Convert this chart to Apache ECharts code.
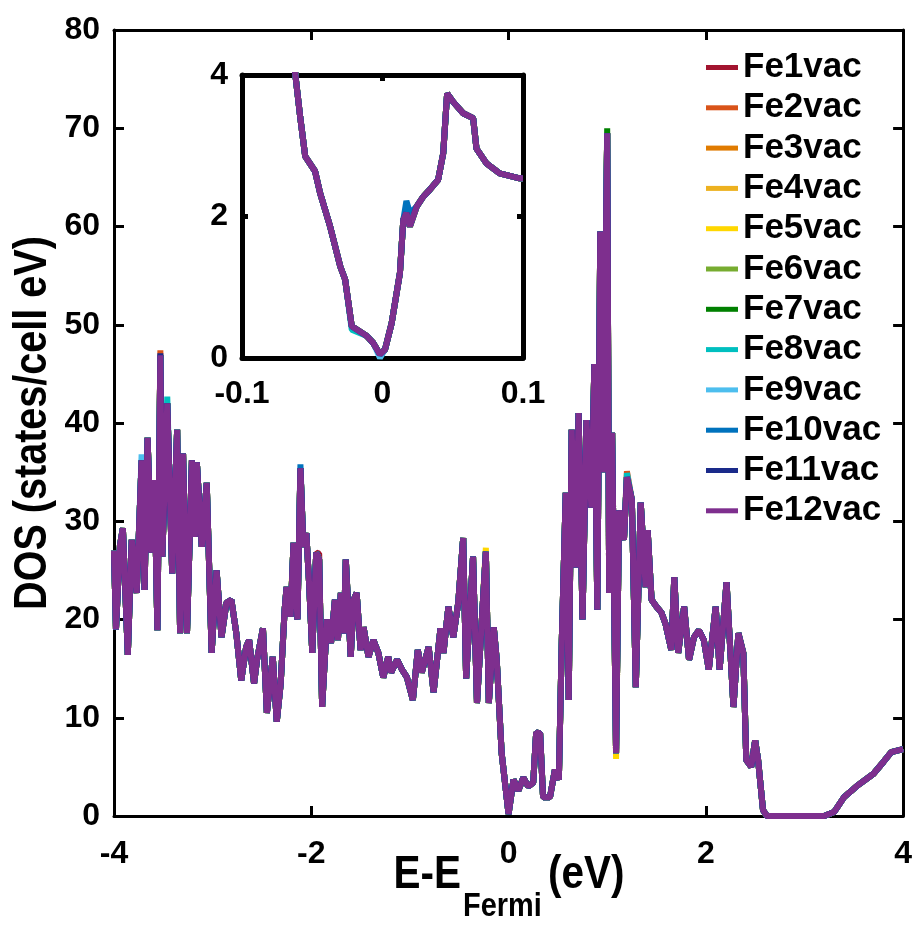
<!DOCTYPE html>
<html>
<head>
<meta charset="utf-8">
<script src="https://cdn.jsdelivr.net/npm/echarts@6/dist/echarts.min.js"></script>
<style>
html, body { margin: 0; padding: 0; background: #fff; }
#chart { width: 915px; height: 934px; }
</style>
</head>
<body>
<div id="chart"></div>
<script>
const seriesNames = ['Fe1vac', 'Fe2vac', 'Fe3vac', 'Fe4vac', 'Fe5vac', 'Fe6vac',
    'Fe7vac', 'Fe8vac', 'Fe9vac', 'Fe10vac', 'Fe11vac', 'Fe12vac'];
const seriesColors = ['#a2142f', '#d95319', '#e07b00', '#edb120', '#ffd700', '#77ac30',
    '#008000', '#00bfbf', '#4dbeee', '#0072bd', '#1a2a8a', '#7e2f8e'];

const energy = [
    -4.00, -3.98, -3.94, -3.91, -3.86, -3.82, -3.77, -3.72, -3.69, -3.66,
    -3.62, -3.59, -3.56, -3.53, -3.51, -3.46, -3.41, -3.36, -3.33, -3.30,
    -3.26, -3.21, -3.18, -3.16, -3.11, -3.06, -3.01, -2.96, -2.91, -2.86,
    -2.81, -2.76, -2.71, -2.66, -2.63, -2.58, -2.55, -2.49, -2.45, -2.39,
    -2.35, -2.31, -2.27, -2.25, -2.21, -2.18, -2.14, -2.11, -2.08, -2.05,
    -2.02, -1.99, -1.95, -1.92, -1.89, -1.84, -1.80, -1.76, -1.73, -1.70,
    -1.67, -1.65, -1.60, -1.57, -1.54, -1.50, -1.47, -1.42, -1.37, -1.32,
    -1.27, -1.22, -1.19, -1.13, -1.08, -1.03, -0.97, -0.92, -0.88, -0.81,
    -0.76, -0.69, -0.66, -0.61, -0.56, -0.51, -0.46, -0.43, -0.36, -0.32,
    -0.23, -0.20, -0.15, -0.12, -0.07, 0.00, 0.05, 0.10, 0.15, 0.20,
    0.25, 0.28, 0.32, 0.35, 0.42, 0.47, 0.51, 0.54, 0.58, 0.61,
    0.64, 0.68, 0.71, 0.75, 0.79, 0.84, 0.87, 0.90, 0.93, 0.96,
    1.00, 1.02, 1.05, 1.09, 1.12, 1.17, 1.20, 1.25, 1.29, 1.34,
    1.39, 1.41, 1.45, 1.50, 1.55, 1.59, 1.65, 1.68, 1.72, 1.78,
    1.83, 1.88, 1.93, 1.98, 2.03, 2.10, 2.14, 2.21, 2.28, 2.33,
    2.38, 2.41, 2.46, 2.50, 2.53, 2.58, 2.62, 3.20, 3.30, 3.40,
    3.55, 3.70, 3.80, 3.88, 4.00
];
const dos = [
    27.0, 19.0, 27.5, 29.3, 16.4, 28.1, 22.7, 36.2, 23.0, 38.5,
    26.8, 34.2, 18.9, 46.9, 26.4, 42.0, 24.7, 39.3, 18.6, 36.9,
    18.6, 36.2, 28.4, 36.0, 27.4, 33.9, 16.6, 25.0, 18.2, 21.7,
    22.0, 18.6, 13.8, 17.2, 17.9, 13.5, 15.9, 19.1, 10.5, 16.2,
    9.6, 13.5, 21.0, 23.3, 20.3, 27.8, 20.0, 35.4, 27.4, 28.8,
    23.3, 16.6, 26.8, 26.1, 11.1, 20.0, 17.6, 22.0, 17.9, 22.7,
    18.6, 26.1, 16.2, 22.0, 22.7, 16.9, 19.2, 16.2, 17.9, 16.6,
    14.1, 16.2, 14.6, 15.9, 14.9, 14.1, 11.8, 16.9, 14.6, 17.2,
    12.6, 19.1, 16.6, 21.3, 18.2, 21.7, 28.3, 14.0, 26.4, 11.5,
    26.9, 11.5, 19.2, 15.9, 6.4, 0.2, 3.7, 2.6, 3.9, 3.0,
    3.4, 8.5, 8.4, 1.9, 1.9, 4.7, 3.7, 17.9, 32.9, 11.8,
    39.3, 25.3, 41.0, 20.0, 40.3, 31.4, 46.0, 21.0, 59.5, 35.0,
    69.5, 22.7, 39.0, 6.4, 31.1, 28.1, 34.5, 32.2, 13.1, 31.9,
    23.3, 29.1, 22.0, 21.3, 20.7, 19.6, 16.9, 24.3, 16.6, 21.3,
    15.9, 18.2, 18.9, 17.9, 14.9, 21.3, 14.9, 23.8, 11.1, 18.6,
    16.6, 5.7, 5.0, 7.7, 5.7, 0.6, 0.0, 0.0, 0.4, 1.9,
    3.2, 4.3, 5.5, 6.5, 6.8
];

// inset, zoom around the Fermi level
const insetEnergy = [
    -0.066, -0.062, -0.0586, -0.055, -0.048, -0.0444, -0.0373, -0.030, -0.0266, -0.0219,
    -0.0112, -0.0065, -0.0018, 0.0018, 0.0065, 0.0124, 0.0148, 0.017, 0.0195, 0.0243,
    0.029, 0.0337, 0.0396, 0.0432, 0.046, 0.0503, 0.0574, 0.0645, 0.0669, 0.074,
    0.0834, 0.0976, 0.100
];
const insetDos = [
    5.0, 4.0, 3.41, 2.85, 2.64, 2.33, 1.86, 1.29, 1.11, 0.45,
    0.31, 0.21, 0.05, 0.12, 0.49, 1.20, 1.95, 2.05, 1.86, 2.14,
    2.28, 2.38, 2.52, 2.89, 3.74, 3.62, 3.46, 3.39, 2.96, 2.75,
    2.61, 2.54, 2.54
];

// where single curves poke out from under the others: [series, energy, value]
const mainTweaks = [
    [1, -3.53, 47.4], [10, -3.53, 47.1], [7, -3.46, 42.7], [8, -3.72, 36.8],
    [0, -1.92, 26.7], [4, -2.21, 21.0], [4, -0.23, 27.3], [7, 1.20, 34.9],
    [1, 1.20, 35.1], [4, 1.09, 5.8], [6, 1.00, 70.0], [9, -2.11, 35.8]
];
const insetTweaks = [
    [9, 0.017, 2.22], [9, 0.0195, 2.05], [8, -0.0018, 0.0], [7, -0.0219, 0.40]
];

function buildData(xs, ys, tweaks, idx) {
    const data = xs.map((x, i) => [x, ys[i]]);
    tweaks.filter(t => t[0] === idx).forEach(t => {
        const p = data.find(d => Math.abs(d[0] - t[1]) < 1e-6);
        if (p) p[1] = t[2];
    });
    return data;
}

const font = '"Liberation Sans", Arial, Helvetica, sans-serif';

function makeAxis(gridIndex, min, max, interval, position, showLabel, lineW, tickLen, labelMargin) {
    return {
        type: 'value',
        gridIndex: gridIndex,
        position: position,
        min: min,
        max: max,
        interval: interval,
        axisLine: { show: true, onZero: false, lineStyle: { color: '#000', width: lineW } },
        axisTick: { show: true, inside: true, length: tickLen, lineStyle: { color: '#000', width: lineW } },
        axisLabel: {
            show: showLabel, color: '#000', fontSize: 32, fontWeight: 'bold',
            fontFamily: font, margin: labelMargin
        },
        splitLine: { show: false }
    };
}

const chart = echarts.init(document.getElementById('chart'));

const series = [];
seriesNames.forEach((name, i) => {
    series.push({
        name: name, type: 'line', xAxisIndex: 0, yAxisIndex: 0,
        data: buildData(energy, dos, mainTweaks, i),
        showSymbol: false, symbol: 'none', clip: true,
        lineStyle: { color: seriesColors[i], width: 6 },
        itemStyle: { color: seriesColors[i] },
        z: 2 + i
    });
});
seriesNames.forEach((name, i) => {
    series.push({
        name: name, type: 'line', xAxisIndex: 2, yAxisIndex: 2,
        data: buildData(insetEnergy, insetDos, insetTweaks, i),
        showSymbol: false, symbol: 'none', clip: true,
        lineStyle: { color: seriesColors[i], width: 6 },
        itemStyle: { color: seriesColors[i] },
        z: 2 + i
    });
});

chart.setOption({
    animation: false,
    backgroundColor: '#fff',
    grid: [
        { left: 114, top: 30, width: 792, height: 786 },
        { left: 242, top: 75, width: 281, height: 283 }
    ],
    xAxis: [
        makeAxis(0, -4, 4, 2, 'bottom', true, 3, 10, 22),
        makeAxis(0, -4, 4, 2, 'top', false, 3, 10, 12),
        makeAxis(1, -0.1, 0.1, 0.1, 'bottom', true, 5, 6, 20),
        makeAxis(1, -0.1, 0.1, 0.1, 'top', false, 5, 6, 12)
    ],
    yAxis: [
        makeAxis(0, 0, 80, 10, 'left', true, 3, 10, 14),
        makeAxis(0, 0, 80, 10, 'right', false, 3, 10, 12),
        makeAxis(1, 0, 4, 2, 'left', true, 5, 6, 14),
        makeAxis(1, 0, 4, 2, 'right', false, 5, 6, 12)
    ],
    legend: {
        data: seriesNames,
        orient: 'vertical',
        left: 701,
        top: 45,
        icon: 'rect',
        itemWidth: 32,
        itemHeight: 5,
        itemGap: 5.3,
        itemTextGap: 10,
        textStyle: { color: '#000', fontSize: 35, fontWeight: 'bold', fontFamily: font, lineHeight: 34.5 }
    },
    graphic: [
        {
            type: 'text', x: 33, y: 423, rotation: Math.PI / 2, scaleX: 0.86,
            style: {
                text: 'DOS (states/cell eV)', fill: '#000', align: 'center', verticalAlign: 'middle',
                font: 'bold 46px ' + font
            }
        },
        {
            type: 'text', x: 461, y: 875, scaleX: 0.88,
            style: { text: 'E-E', fill: '#000', align: 'right', verticalAlign: 'middle', font: 'bold 46px ' + font }
        },
        {
            type: 'text', x: 463, y: 907, scaleX: 0.85,
            style: { text: 'Fermi', fill: '#000', align: 'left', verticalAlign: 'middle', font: 'bold 34px ' + font }
        },
        {
            type: 'text', x: 548, y: 875, scaleX: 0.88,
            style: { text: '(eV)', fill: '#000', align: 'left', verticalAlign: 'middle', font: 'bold 46px ' + font }
        }
    ],
    series: series
});
</script>
</body>
</html>
